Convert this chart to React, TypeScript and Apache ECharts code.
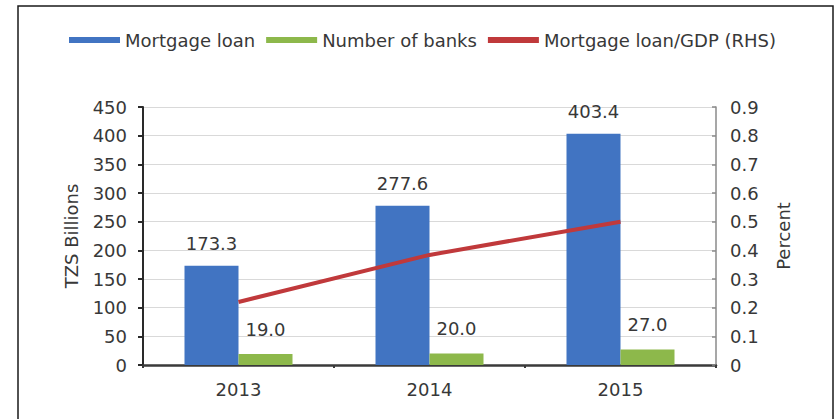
import React, { useEffect, useRef } from "react";
import * as echarts from "echarts";

const years = ["2013", "2014", "2015"];
const mortgageLoan = [173.3, 277.6, 403.4];
const numberOfBanks = [19.0, 20.0, 27.0];
const loanToGdp = [0.22, 0.384, 0.5];

const FONT = "DejaVu Sans";
const TXT = "#383838";

export default function App() {
  const ref = useRef<HTMLDivElement>(null);
  useEffect(() => {
    if (!ref.current) return;
    const chart = echarts.init(ref.current, undefined, { renderer: "svg" });
    chart.setOption({
      animation: false,
      backgroundColor: "#ffffff",
      textStyle: { fontFamily: FONT },
      graphic: [
        {
          type: "rect",
          shape: { x: 18, y: 6, width: 815, height: 440 },
          style: { fill: "none", stroke: "#1a1a1a", lineWidth: 1.5 },
          silent: true,
        },
      ],
      legend: {
        left: 64,
        top: 26,
        icon: "rect",
        itemWidth: 51,
        itemHeight: 6,
        itemGap: 11,
        textStyle: { fontFamily: FONT, fontSize: 18, color: TXT, padding: [0, 0, 0, 0] },
        data: ["Mortgage loan", "Number of banks", "Mortgage loan/GDP (RHS)"],
      },
      grid: { left: 143, right: 122, top: 107, bottom: 54 },
      xAxis: {
        type: "category",
        data: years,
        axisLine: { lineStyle: { color: "#3a3a3a", width: 2.5 } },
        axisTick: { show: true, length: 3, lineStyle: { color: "#3a3a3a", width: 2 } },
        axisLabel: { margin: 15, fontSize: 18, color: TXT, fontFamily: FONT },
      },
      yAxis: [
        {
          type: "value",
          min: 0,
          max: 450,
          interval: 50,
          name: "TZS Billions",
          nameLocation: "middle",
          nameRotate: 90,
          nameGap: 63,
          nameTextStyle: { fontSize: 18, color: TXT, fontFamily: FONT },
          axisLine: { show: true, lineStyle: { color: "#2a2a2a", width: 2 } },
          axisTick: { show: true, length: 5, lineStyle: { color: "#2a2a2a", width: 2 } },
          axisLabel: { margin: 16, fontSize: 18, color: TXT, fontFamily: FONT },
          splitLine: { show: true, lineStyle: { color: "#d9d9d9", width: 1 } },
        },
        {
          type: "value",
          min: 0,
          max: 0.9,
          interval: 0.1,
          name: "Percent",
          nameLocation: "middle",
          nameRotate: 90,
          nameGap: 58,
          nameTextStyle: { fontSize: 18, color: TXT, fontFamily: FONT },
          axisLine: { show: true, lineStyle: { color: "#8a8a8a", width: 1.5 } },
          axisTick: { show: true, inside: true, length: 4, lineStyle: { color: "#8a8a8a", width: 1.5 } },
          axisLabel: {
            margin: 14,
            fontSize: 18,
            color: TXT,
            fontFamily: FONT,
            formatter: (v: number) => (v === 0 ? "0" : v.toFixed(1)),
          },
          splitLine: { show: false },
        },
      ],
      series: [
        {
          name: "Mortgage loan",
          type: "bar",
          data: mortgageLoan,
          barWidth: 54,
          barGap: "0%",
          itemStyle: { color: "#4174c2" },
          label: {
            show: true,
            position: "top",
            distance: 13,
            fontSize: 18,
            color: TXT,
            fontFamily: FONT,
            formatter: (p: any) => p.value.toFixed(1),
          },
        },
        {
          name: "Number of banks",
          type: "bar",
          data: numberOfBanks,
          barWidth: 54,
          barGap: "0%",
          itemStyle: { color: "#8db84b" },
          label: {
            show: true,
            position: "top",
            distance: 16,
            fontSize: 18,
            color: TXT,
            fontFamily: FONT,
            formatter: (p: any) => p.value.toFixed(1),
          },
        },
        {
          name: "Mortgage loan/GDP (RHS)",
          type: "line",
          yAxisIndex: 1,
          data: loanToGdp,
          showSymbol: false,
          symbol: "none",
          lineStyle: { color: "#c0393b", width: 4 },
          itemStyle: { color: "#c0393b" },
          z: 3,
        },
      ],
    });
    return () => chart.dispose();
  }, []);
  return (
    <div
      ref={ref}
      style={{ position: "fixed", left: 0, top: 0, width: 838, height: 419 }}
    />
  );
}
